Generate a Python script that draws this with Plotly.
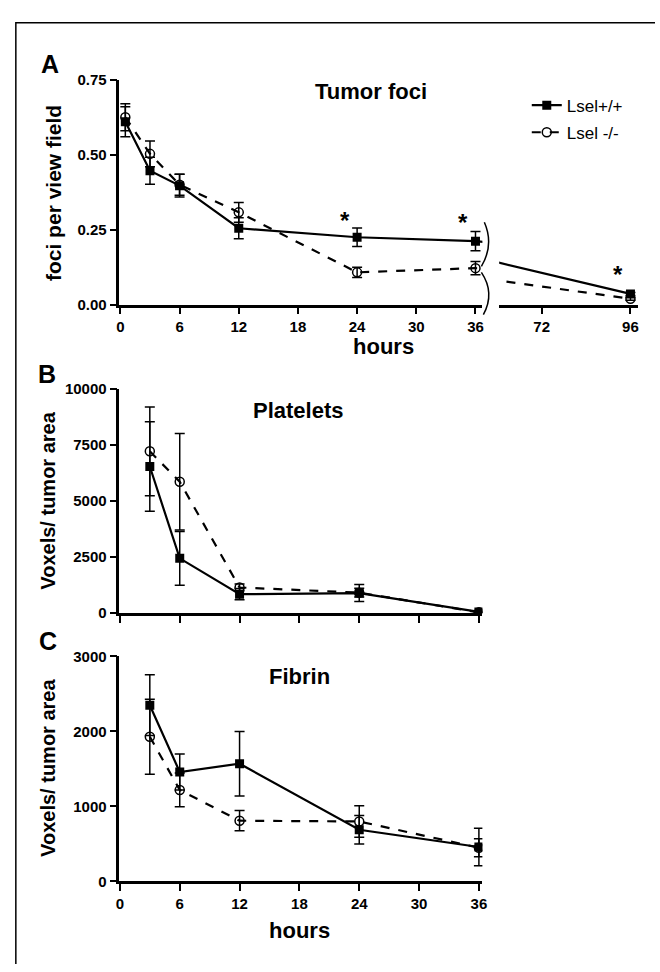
import plotly.graph_objects as go

# ---------------- data ----------------
hours_A = [0.5, 3, 6, 12, 24, 36, 96]
wt_A = [0.61, 0.447, 0.397, 0.255, 0.225, 0.212, 0.036]
wt_A_err = [0.05, 0.045, 0.038, 0.035, 0.031, 0.032, 0.005]
ko_A = [0.625, 0.503, 0.40, 0.308, 0.108, 0.122, 0.02]
ko_A_err = [0.045, 0.043, 0.035, 0.033, 0.017, 0.022, 0.005]

hours_BC = [3, 6, 12, 24, 36]
wt_B = [6550, 2450, 850, 900, 60]
wt_B_err = [2000, 1200, 250, 380, 40]
ko_B = [7230, 5870, 1150, 920, 40]
ko_B_err = [1980, 2150, 150, 200, 30]

wt_C = [2350, 1460, 1570, 690, 460]
wt_C_err = [405, 240, 430, 190, 250]
ko_C = [1930, 1220, 810, 800, 450]
ko_C_err = [500, 225, 135, 210, 120]

series_names = ["Lsel+/+", "Lsel -/-"]
ticks_BC_x = [0, 6, 12, 18, 24, 30, 36]
ticks_A_y = [0, 0.25, 0.5, 0.75]
ticks_A_y_text = ["0.00", "0.25", "0.50", "0.75"]
ticks_B_y = [0, 2500, 5000, 7500, 10000]
ticks_C_y = [0, 1000, 2000, 3000]

W, H = 660, 972
FONT = "Arial, Liberation Sans, sans-serif"


def px(x):
    return x / W


def py(y):
    return 1 - y / H


fig = go.Figure()


def add_pair(x, wt, wte, ko, koe, xa, ya, legend):
    fig.add_trace(go.Scatter(
        x=x, y=wt, xaxis=xa, yaxis=ya, mode="lines+markers",
        name=series_names[0], legendgroup="wt", showlegend=legend,
        line=dict(color="black", width=2.2),
        marker=dict(symbol="square", size=9, color="black"),
        error_y=dict(type="data", array=wte, color="black", thickness=1.5, width=5),
    ))
    fig.add_trace(go.Scatter(
        x=x, y=ko, xaxis=xa, yaxis=ya, mode="lines+markers",
        name=series_names[1], legendgroup="ko", showlegend=legend,
        line=dict(color="black", width=2.2, dash="dash"),
        marker=dict(symbol="circle-open", size=9, color="black", line=dict(width=1.5)),
        error_y=dict(type="data", array=koe, color="black", thickness=1.5, width=5),
    ))


add_pair(hours_A, wt_A, wt_A_err, ko_A, ko_A_err, "x", "y", True)
add_pair(hours_A, wt_A, wt_A_err, ko_A, ko_A_err, "x2", "y", False)
add_pair(hours_BC, wt_B, wt_B_err, ko_B, ko_B_err, "x3", "y3", False)
add_pair(hours_BC, wt_C, wt_C_err, ko_C, ko_C_err, "x4", "y4", False)

tickfont = dict(family=FONT, size=15, color="black", weight="bold")
axis_common = dict(showline=True, linewidth=2.5, linecolor="black", ticks="outside",
                   ticklen=7, tickwidth=2, tickcolor="black", showgrid=False,
                   zeroline=False, tickfont=tickfont)

fig.update_layout(
    width=W, height=H, margin=dict(l=0, r=0, t=0, b=0),
    paper_bgcolor="white", plot_bgcolor="rgba(0,0,0,0)",
    font=dict(family=FONT, color="black"),
    xaxis=dict(domain=[px(117), px(485)], range=[-0.1, 36.7], tickvals=ticks_BC_x,
               anchor="y", **axis_common),
    xaxis2=dict(domain=[px(502), px(643)], range=[60.5, 98.1], tickvals=[72, 96],
                anchor="y", **axis_common),
    yaxis=dict(domain=[py(301), py(72)], range=[0, 0.75], tickvals=ticks_A_y,
               ticktext=ticks_A_y_text, anchor="x", **axis_common),
    xaxis3=dict(domain=[px(117), px(485)], range=[-0.05, 36.35], tickvals=ticks_BC_x,
                showticklabels=False, anchor="y3", **axis_common),
    yaxis3=dict(domain=[py(615), py(387)], range=[0, 10000], tickvals=ticks_B_y,
                ticktext=[str(v) for v in ticks_B_y], anchor="x3", **axis_common),
    xaxis4=dict(domain=[px(117), px(485)], range=[-0.05, 36.35], tickvals=ticks_BC_x,
                anchor="y4", **axis_common),
    yaxis4=dict(domain=[py(888), py(659)], range=[0, 3000], tickvals=ticks_C_y,
                ticktext=[str(v) for v in ticks_C_y], anchor="x4", **axis_common),
    legend=dict(x=px(530), y=py(80), xanchor="left", yanchor="top", tracegroupgap=2,
                font=dict(family=FONT, size=17, color="black"), bgcolor="rgba(0,0,0,0)"),
)

ann = []


def text(x, y, s, size, bold=True, angle=0, xanchor="center"):
    ann.append(dict(x=px(x), y=py(y), xref="paper", yref="paper", text=s, showarrow=False,
                    textangle=angle, xanchor=xanchor, yanchor="middle",
                    font=dict(family=FONT, size=size, color="black", weight="bold" if bold else "normal")))


# panel letters
text(47, 56, "A", 25)
text(44, 371, "B", 25)
text(45, 643, "C", 25)
# titles
text(372, 84, "Tumor foci", 22)
text(299, 409, "Platelets", 22)
text(300, 679, "Fibrin", 22)
# y titles
text(50, 187, "foci per view field", 21, angle=-90)
text(45, 500, "Voxels/ tumor area", 20, angle=-90)
text(45, 772, "Voxels/ tumor area", 20, angle=-90)
# x titles
text(385, 344, "hours", 22)
text(300, 938, "hours", 22)

# significance asterisks (data coordinates)
for xv, yv, xr in [(24, 0.23, "x"), (36, 0.222, "x"), (96, 0.05, "x2")]:
    ann.append(dict(x=xv, y=yv, xref=xr, yref="y", text="*", showarrow=False,
                    xshift=-12, yanchor="bottom",
                    font=dict(family=FONT, size=24, color="black", weight="bold")))

fig.update_layout(annotations=ann)

# axis break braces and outer frame
shapes = [
    dict(type="path", xref="paper", yref="paper", line=dict(color="black", width=1.5),
         path=f"M {px(487)} {py(217)} Q {px(497)} {py(240)} {px(484)} {py(262)}"),
    dict(type="path", xref="paper", yref="paper", line=dict(color="black", width=1.5),
         path=f"M {px(484)} {py(268)} Q {px(498)} {py(289)} {px(486)} {py(311)}"),
    dict(type="path", xref="paper", yref="paper", line=dict(color="black", width=1.5),
         path=f"M {px(12)} {py(972)} L {px(12)} {py(14)} L {px(660)} {py(14)}"),
]
fig.update_layout(shapes=shapes)

fig.write_html("out.html")
